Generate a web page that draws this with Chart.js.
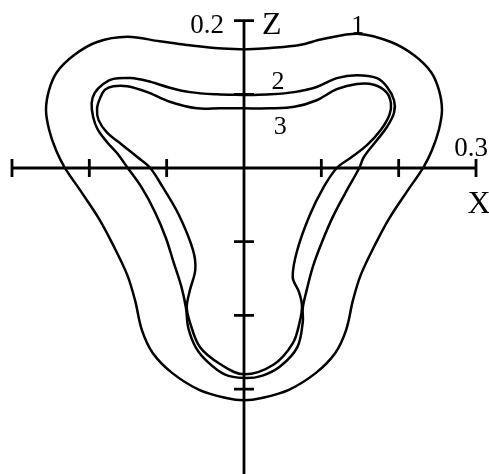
<!DOCTYPE html>
<html>
<head>
<meta charset="utf-8">
<script src="https://cdn.jsdelivr.net/npm/chart.js@4/dist/chart.umd.min.js"></script>
<style>
  html, body { margin: 0; padding: 0; background: #fff; }
  canvas { display: block; }
</style>
</head>
<body>
<canvas id="Chart" width="489" height="474"></canvas>
<script>
// closed contours in the X-Z plane, [x, z]
const curve1 = [
  [0, 0.161], [0.034, 0.163], [0.072, 0.167], [0.102, 0.175], [0.149, 0.182],
  [0.190, 0.171], [0.220, 0.153], [0.242, 0.130], [0.252, 0.106], [0.256, 0.079],
  [0.252, 0.052], [0.243, 0.024], [0.232, 0.001], [0.210, -0.033], [0.188, -0.068],
  [0.169, -0.105], [0.151, -0.145], [0.141, -0.179], [0.132, -0.220], [0.118, -0.251],
  [0.093, -0.278], [0.058, -0.301], [0.023, -0.312], [0, -0.315], [-0.023, -0.312],
  [-0.058, -0.301], [-0.093, -0.278], [-0.118, -0.251], [-0.132, -0.220], [-0.141, -0.179],
  [-0.151, -0.145], [-0.169, -0.105], [-0.188, -0.068], [-0.210, -0.033], [-0.232, 0.001],
  [-0.243, 0.024], [-0.252, 0.052], [-0.256, 0.079], [-0.252, 0.106], [-0.242, 0.130],
  [-0.220, 0.153], [-0.190, 0.171], [-0.151, 0.178], [-0.109, 0.172], [-0.074, 0.167],
  [-0.038, 0.163], [0, 0.161]
];

const curve2 = [
  [0, 0.099], [0.034, 0.100], [0.065, 0.103], [0.094, 0.110], [0.120, 0.122],
  [0.146, 0.126], [0.172, 0.122], [0.185, 0.110], [0.194, 0.092], [0.194, 0.075],
  [0.185, 0.056], [0.172, 0.038], [0.155, 0.015], [0.149, 0], [0.131, -0.034],
  [0.115, -0.066], [0.101, -0.100], [0.089, -0.134], [0.081, -0.166], [0.076, -0.190],
  [0.076, -0.209], [0.069, -0.243], [0.047, -0.269], [0.023, -0.282], [0, -0.285],
  [-0.025, -0.280], [-0.047, -0.263], [-0.062, -0.244], [-0.072, -0.217], [-0.075, -0.190],
  [-0.081, -0.161], [-0.091, -0.128], [-0.101, -0.095], [-0.115, -0.060], [-0.132, -0.027],
  [-0.151, 0.001], [-0.164, 0.020], [-0.177, 0.035], [-0.189, 0.052], [-0.195, 0.069],
  [-0.197, 0.088], [-0.193, 0.102], [-0.182, 0.114], [-0.169, 0.121], [-0.147, 0.122],
  [-0.125, 0.118], [-0.096, 0.109], [-0.070, 0.103], [-0.035, 0.100], [0, 0.099]
];

const curve3 = [
  [0, 0.081], [0.034, 0.081], [0.065, 0.083], [0.094, 0.092], [0.120, 0.107],
  [0.146, 0.114], [0.168, 0.113], [0.184, 0.103], [0.190, 0.088], [0.188, 0.072],
  [0.177, 0.052], [0.159, 0.031], [0.138, 0.014], [0.120, 0], [0.103, -0.026],
  [0.085, -0.064], [0.069, -0.111], [0.063, -0.148], [0.071, -0.168], [0.075, -0.187],
  [0.072, -0.209], [0.063, -0.238], [0.038, -0.267], [0, -0.280], [-0.031, -0.266],
  [-0.057, -0.243], [-0.070, -0.209], [-0.074, -0.189], [-0.070, -0.166], [-0.063, -0.138],
  [-0.066, -0.111], [-0.084, -0.064], [-0.105, -0.026], [-0.122, 0.001], [-0.138, 0.015],
  [-0.157, 0.031], [-0.177, 0.048], [-0.188, 0.065], [-0.190, 0.081], [-0.186, 0.095],
  [-0.180, 0.106], [-0.169, 0.111], [-0.151, 0.111], [-0.125, 0.103], [-0.096, 0.090],
  [-0.061, 0.081], [-0.031, 0.081], [0, 0.081]
];

const xTicks = [-0.3, -0.2, -0.1, 0.1, 0.2, 0.3];
const zTicks = [0.2, 0.1, -0.1, -0.2, -0.3];
const xTickLabel = "0.3";
const zTickLabel = "0.2";
const curveNames = ["1", "2", "3"];
// where each curve number sits, [x, z]
const curveNamePos = [[0.147, 0.183], [0.044, 0.107], [0.047, 0.046]];

const FONT = '"Liberation Serif", "Times New Roman", serif';

const toPoints = (arr) => arr.map(([x, z]) => ({ x, y: z }));

// axes through the origin with ticks crossing the line
const crossAxes = {
  id: "crossAxes",
  afterDatasetsDraw(chart) {
    const { ctx, chartArea } = chart;
    const xs = chart.scales.x;
    const ys = chart.scales.y;
    const x0 = xs.getPixelForValue(0);
    const y0 = ys.getPixelForValue(0);
    const xL = xs.getPixelForValue(-0.3);
    const xR = xs.getPixelForValue(0.3);
    const zTop = ys.getPixelForValue(0.2);

    ctx.save();
    ctx.strokeStyle = "#000";
    ctx.lineWidth = 2.8;
    ctx.lineCap = "butt";

    ctx.beginPath();
    ctx.moveTo(xL, y0);
    ctx.lineTo(xR, y0);
    ctx.moveTo(x0, zTop);
    ctx.lineTo(x0, chartArea.bottom);
    xTicks.forEach((v) => {
      const p = xs.getPixelForValue(v);
      ctx.moveTo(p, y0 - 9);
      ctx.lineTo(p, y0 + 9);
    });
    zTicks.forEach((v) => {
      const p = ys.getPixelForValue(v);
      ctx.moveTo(x0 - 10, p);
      ctx.lineTo(x0 + 10, p);
    });
    ctx.stroke();

    ctx.fillStyle = "#000";
    ctx.textBaseline = "alphabetic";

    ctx.font = "27px " + FONT;
    ctx.textAlign = "right";
    ctx.fillText(zTickLabel, x0 - 20, zTop + 12);
    ctx.textAlign = "center";
    ctx.fillText(xTickLabel, xR - 5, y0 - 12);

    ctx.font = "32px " + FONT;
    ctx.textAlign = "left";
    ctx.fillText("Z", x0 + 18, zTop + 13);
    ctx.textAlign = "center";
    ctx.fillText("X", xR + 3, y0 + 45);

    ctx.font = "26px " + FONT;
    curveNames.forEach((t, i) => {
      const [cx, cz] = curveNamePos[i];
      ctx.fillText(t, xs.getPixelForValue(cx), ys.getPixelForValue(cz));
    });
    ctx.restore();
  },
};

const lineStyle = {
  showLine: true,
  fill: false,
  borderColor: "#000",
  borderWidth: 2.5,
  pointRadius: 0,
  tension: 0.35,
};

new Chart(document.getElementById("Chart"), {
  type: "scatter",
  data: {
    datasets: [
      { label: "1", data: toPoints(curve1), ...lineStyle },
      { label: "2", data: toPoints(curve2), ...lineStyle },
      { label: "3", data: toPoints(curve3), ...lineStyle },
    ],
  },
  options: {
    responsive: false,
    animation: false,
    layout: { padding: 0 },
    plugins: {
      legend: { display: false },
      tooltip: { enabled: false },
    },
    scales: {
      x: { type: "linear", min: -0.3155, max: 0.3168, display: false },
      y: { type: "linear", min: -0.4152, max: 0.2280, display: false },
    },
  },
  plugins: [crossAxes],
});
</script>
</body>
</html>
